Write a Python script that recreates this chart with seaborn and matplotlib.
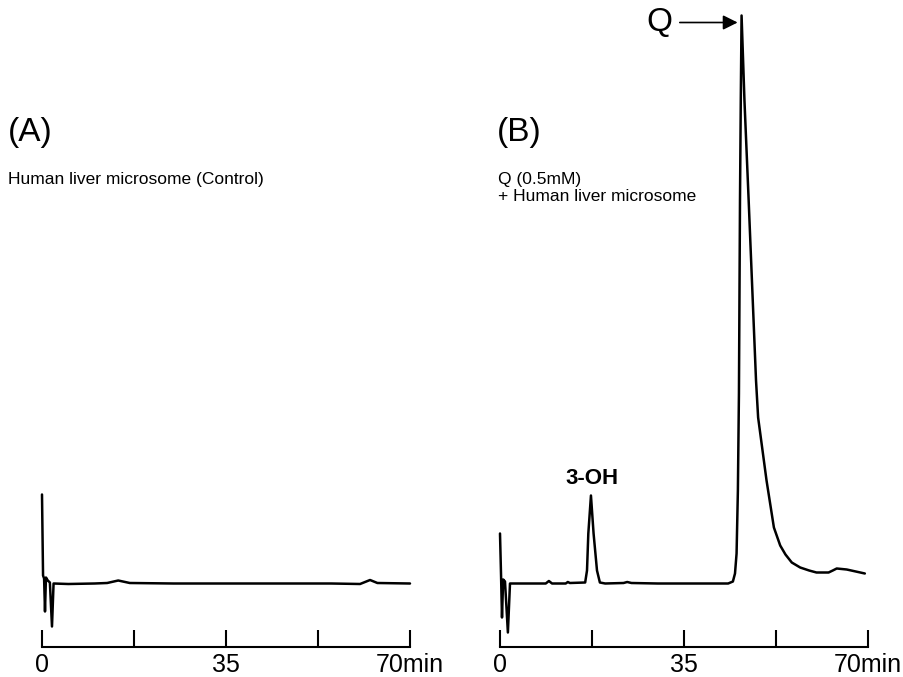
import numpy as np
import pandas as pd
from matplotlib import pyplot as plt
import seaborn as sns

# chromatogram traces (time in min, detector signal in arbitrary units)
time_a = [0.0, 0.2, 0.4, 0.57, 0.75, 1.1, 1.5, 1.9, 2.2, 5.0, 10.0, 12.4, 14.5, 16.7, 25.0, 35.0, 45.0, 55.0, 60.5, 62.4, 63.8, 70.0]
signal_a = [89, 8, 5, -28, 6, 3, 1, -43, 0, -0.5, 0, 0.5, 3, 0.5, 0, 0, 0, 0, -0.5, 3.5, 0.5, 0]

time_b = [0.0, 0.2, 0.38, 0.6, 0.95, 1.5, 1.9, 5.0, 8.7, 9.3, 9.9, 12.5, 12.9, 13.3, 16.2, 16.55, 16.8, 17.3, 17.8,
          18.45, 19.0, 20.0, 23.5, 24.2, 25.0, 30.0, 40.0, 43.4, 44.3, 44.7, 45.0, 45.25, 45.45, 45.65, 45.8, 45.95,
          46.5, 47.3, 48.7, 49.1, 50.7, 52.1, 53.3, 54.3, 55.5, 57.1, 58.8, 60.2, 62.5, 63.3, 64.05, 65.95, 69.4]
signal_b = [50, 8, -34, 4, 2, -49, 0, 0, 0, 2.5, 0, 0, 1.5, 0.5, 1, 13, 50, 88, 50,
            13, 1, 0, 0.5, 1.5, 0.5, 0, 0, 0, 2, 10, 30, 93, 190, 383, 483, 568,
            483, 383, 203, 166, 103, 56, 38, 29, 21, 16, 13, 11, 11, 13, 15, 14, 10]

tick_pos = [0, 17.5, 35, 52.5, 70]
tick_labels = ['0', '', '35', '', '70min']

df_a = pd.DataFrame({'time': time_a, 'signal': signal_a})
df_b = pd.DataFrame({'time': time_b, 'signal': signal_b})

sns.set_style('white')
plt.rcParams['font.family'] = ['Liberation Sans', 'DejaVu Sans']
plt.rcParams['text.color'] = 'black'
plt.rcParams['xtick.color'] = 'black'

W, H = 904, 677
fig = plt.figure(figsize=(W / 100, H / 100), dpi=100)

def px_axes(left, right, top, bottom):
    return fig.add_axes([left / W, 1 - bottom / H, (right - left) / W, (bottom - top) / H])

ax_a = px_axes(42, 410, 10, 647)
ax_b = px_axes(500, 868, 10, 647)

for ax, df in [(ax_a, df_a), (ax_b, df_b)]:
    sns.lineplot(data=df, x='time', y='signal', ax=ax, color='black', lw=1.8,
                 sort=False, estimator=None)
    for line in ax.lines:
        line.set_clip_on(False)
    ax.set_xlim(0, 70)
    ax.set_ylim(-63.5, 573.5)
    ax.set_xticks(tick_pos)
    ax.set_xticklabels(tick_labels, fontsize=18, color='black')
    ax.set_yticks([])
    ax.set_xlabel('')
    ax.set_ylabel('')
    for side in ['top', 'right', 'left']:
        ax.spines[side].set_visible(False)
    ax.spines['bottom'].set_linewidth(1.5)
    ax.spines['bottom'].set_color('black')
    ax.tick_params(axis='x', bottom=True, direction='in', length=12, width=1.5,
                   color='black', labelcolor='black', pad=4)
    ax.patch.set_alpha(0)

# peak labels
ax_b.text(17.5, 99, '3-OH', fontsize=16, fontweight='bold', ha='center', va='baseline')
ax_b.text(30.4, 561, 'Q', fontsize=24, ha='center', va='center')
ax_b.annotate('', xy=(45.2, 561), xytext=(34.2, 561),
              arrowprops=dict(arrowstyle='-|>', mutation_scale=22, lw=1.2, color='black',
                              shrinkA=0, shrinkB=0))

# panel titles
fig.text(8 / W, 1 - 133 / H, '(A)', fontsize=24, va='center', ha='left')
fig.text(8 / W, 1 - 179 / H, 'Human liver microsome (Control)', fontsize=12.5, va='center', ha='left')
fig.text(497 / W, 1 - 133 / H, '(B)', fontsize=24, va='center', ha='left')
fig.text(498 / W, 1 - 180 / H, 'Q (0.5mM)', fontsize=12.5, va='center', ha='left')
fig.text(498 / W, 1 - 197 / H, '+ Human liver microsome', fontsize=12.5, va='center', ha='left')

plt.savefig('out.png', dpi=100)
